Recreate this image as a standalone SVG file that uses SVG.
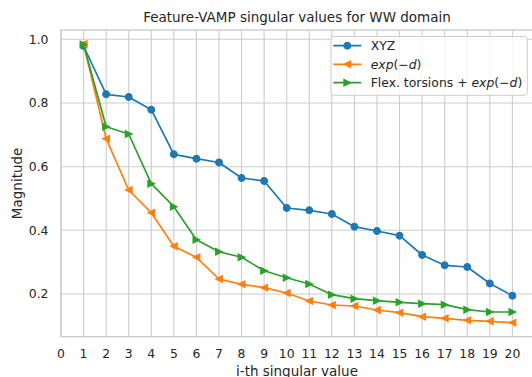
<svg xmlns="http://www.w3.org/2000/svg" width="532" height="377" viewBox="0 0 532 377">
<style>
text{font-family:"DejaVu Sans","Liberation Sans",sans-serif;fill:#262626}
.tk{font-size:12.4px}
.xt{text-anchor:middle}
.yt{text-anchor:end}
.grid line{stroke:#cccccc;stroke-width:1.1}
.ln{fill:none;stroke-width:1.7;stroke-linejoin:round;stroke-linecap:round}
.b{stroke:#1f77b4;fill:#1f77b4}
.o{stroke:#ff7f0e;fill:#ff7f0e}
.g{stroke:#2ca02c;fill:#2ca02c}
.mk use{stroke-width:1.1}
.lg{font-size:12.4px}
</style>
<defs>
<circle id="mc" r="3.4"/>
<path id="ml" d="M-3.4,0 L3.4,-3.4 L3.4,3.4 Z"/>
<path id="mr" d="M3.4,0 L-3.4,-3.4 L-3.4,3.4 Z"/>
</defs>
<rect width="532" height="377" fill="#ffffff"/>
<g id="axes">
<g class="grid">
<line x1="61" y1="30" x2="61" y2="336.7"/>
<line x1="83.57" y1="30" x2="83.57" y2="336.7"/>
<line x1="106.14" y1="30" x2="106.14" y2="336.7"/>
<line x1="128.71" y1="30" x2="128.71" y2="336.7"/>
<line x1="151.28" y1="30" x2="151.28" y2="336.7"/>
<line x1="173.85" y1="30" x2="173.85" y2="336.7"/>
<line x1="196.42" y1="30" x2="196.42" y2="336.7"/>
<line x1="218.99" y1="30" x2="218.99" y2="336.7"/>
<line x1="241.56" y1="30" x2="241.56" y2="336.7"/>
<line x1="264.13" y1="30" x2="264.13" y2="336.7"/>
<line x1="286.7" y1="30" x2="286.7" y2="336.7"/>
<line x1="309.27" y1="30" x2="309.27" y2="336.7"/>
<line x1="331.84" y1="30" x2="331.84" y2="336.7"/>
<line x1="354.41" y1="30" x2="354.41" y2="336.7"/>
<line x1="376.98" y1="30" x2="376.98" y2="336.7"/>
<line x1="399.55" y1="30" x2="399.55" y2="336.7"/>
<line x1="422.12" y1="30" x2="422.12" y2="336.7"/>
<line x1="444.69" y1="30" x2="444.69" y2="336.7"/>
<line x1="467.26" y1="30" x2="467.26" y2="336.7"/>
<line x1="489.83" y1="30" x2="489.83" y2="336.7"/>
<line x1="512.4" y1="30" x2="512.4" y2="336.7"/>
<line x1="61" y1="39.3" x2="534" y2="39.3"/>
<line x1="61" y1="103" x2="534" y2="103"/>
<line x1="61" y1="166.7" x2="534" y2="166.7"/>
<line x1="61" y1="230.3" x2="534" y2="230.3"/>
<line x1="61" y1="294" x2="534" y2="294"/>
</g>
<rect x="61" y="30" width="473" height="306.7" fill="none" stroke="#cccccc" stroke-width="1.4"/>
<g class="tk xt">
<text x="61" y="358">0</text>
<text x="83.57" y="358">1</text>
<text x="106.14" y="358">2</text>
<text x="128.71" y="358">3</text>
<text x="151.28" y="358">4</text>
<text x="173.85" y="358">5</text>
<text x="196.42" y="358">6</text>
<text x="218.99" y="358">7</text>
<text x="241.56" y="358">8</text>
<text x="264.13" y="358">9</text>
<text x="286.7" y="358">10</text>
<text x="309.27" y="358">11</text>
<text x="331.84" y="358">12</text>
<text x="354.41" y="358">13</text>
<text x="376.98" y="358">14</text>
<text x="399.55" y="358">15</text>
<text x="422.12" y="358">16</text>
<text x="444.69" y="358">17</text>
<text x="467.26" y="358">18</text>
<text x="489.83" y="358">19</text>
<text x="512.4" y="358">20</text>
</g>
<g class="tk yt">
<text x="48.5" y="43.7">1.0</text>
<text x="48.5" y="107.4">0.8</text>
<text x="48.5" y="171.1">0.6</text>
<text x="48.5" y="234.7">0.4</text>
<text x="48.5" y="298.4">0.2</text>
</g>
<text x="297" y="22" font-size="13.5" text-anchor="middle">Feature-VAMP singular values for WW domain</text>
<text x="297" y="375.8" font-size="13.5" text-anchor="middle">i-th singular value</text>
<text transform="translate(21.5,183.4) rotate(-90)" font-size="13.5" text-anchor="middle">Magnitude</text>
</g>
<g id="series-xyz">
<polyline class="ln b" style="fill:none" points="83.57,46 106.14,94.3 128.71,97 151.28,109.7 173.85,154.3 196.42,158.7 218.99,162.5 241.56,178 264.13,181 286.7,208 309.27,210.3 331.84,214 354.41,226.7 376.98,231 399.55,235.7 422.12,255 444.69,265.3 467.26,267 489.83,283.5 512.4,295.7"/>
<g class="mk b">
<use href="#mc" x="83.57" y="46"/><use href="#mc" x="106.14" y="94.3"/><use href="#mc" x="128.71" y="97"/><use href="#mc" x="151.28" y="109.7"/><use href="#mc" x="173.85" y="154.3"/><use href="#mc" x="196.42" y="158.7"/><use href="#mc" x="218.99" y="162.5"/><use href="#mc" x="241.56" y="178"/><use href="#mc" x="264.13" y="181"/><use href="#mc" x="286.7" y="208"/><use href="#mc" x="309.27" y="210.3"/><use href="#mc" x="331.84" y="214"/><use href="#mc" x="354.41" y="226.7"/><use href="#mc" x="376.98" y="231"/><use href="#mc" x="399.55" y="235.7"/><use href="#mc" x="422.12" y="255"/><use href="#mc" x="444.69" y="265.3"/><use href="#mc" x="467.26" y="267"/><use href="#mc" x="489.83" y="283.5"/><use href="#mc" x="512.4" y="295.7"/>
</g>
</g>
<g id="series-expd">
<polyline class="ln o" style="fill:none" points="83.57,44 106.14,138.7 128.71,190 151.28,212.7 173.85,246.3 196.42,257.3 218.99,279 241.56,284.3 264.13,287.7 286.7,293 309.27,301 331.84,305 354.41,306 376.98,310 399.55,312.7 422.12,316.7 444.69,318.3 467.26,320.3 489.83,321.3 512.4,322.7"/>
<g class="mk o">
<use href="#ml" x="83.57" y="44"/><use href="#ml" x="106.14" y="138.7"/><use href="#ml" x="128.71" y="190"/><use href="#ml" x="151.28" y="212.7"/><use href="#ml" x="173.85" y="246.3"/><use href="#ml" x="196.42" y="257.3"/><use href="#ml" x="218.99" y="279"/><use href="#ml" x="241.56" y="284.3"/><use href="#ml" x="264.13" y="287.7"/><use href="#ml" x="286.7" y="293"/><use href="#ml" x="309.27" y="301"/><use href="#ml" x="331.84" y="305"/><use href="#ml" x="354.41" y="306"/><use href="#ml" x="376.98" y="310"/><use href="#ml" x="399.55" y="312.7"/><use href="#ml" x="422.12" y="316.7"/><use href="#ml" x="444.69" y="318.3"/><use href="#ml" x="467.26" y="320.3"/><use href="#ml" x="489.83" y="321.3"/><use href="#ml" x="512.4" y="322.7"/>
</g>
</g>
<g id="series-flex">
<polyline class="ln g" style="fill:none" points="83.57,44.5 106.14,126.7 128.71,134 151.28,183.7 173.85,206.7 196.42,239.7 218.99,251.7 241.56,257.3 264.13,270.7 286.7,277.7 309.27,284 331.84,294.7 354.41,298.7 376.98,300.7 399.55,302.3 422.12,303.7 444.69,304.7 467.26,309.7 489.83,312 512.4,312"/>
<g class="mk g">
<use href="#mr" x="83.57" y="44.5"/><use href="#mr" x="106.14" y="126.7"/><use href="#mr" x="128.71" y="134"/><use href="#mr" x="151.28" y="183.7"/><use href="#mr" x="173.85" y="206.7"/><use href="#mr" x="196.42" y="239.7"/><use href="#mr" x="218.99" y="251.7"/><use href="#mr" x="241.56" y="257.3"/><use href="#mr" x="264.13" y="270.7"/><use href="#mr" x="286.7" y="277.7"/><use href="#mr" x="309.27" y="284"/><use href="#mr" x="331.84" y="294.7"/><use href="#mr" x="354.41" y="298.7"/><use href="#mr" x="376.98" y="300.7"/><use href="#mr" x="399.55" y="302.3"/><use href="#mr" x="422.12" y="303.7"/><use href="#mr" x="444.69" y="304.7"/><use href="#mr" x="467.26" y="309.7"/><use href="#mr" x="489.83" y="312"/><use href="#mr" x="512.4" y="312"/>
</g>
</g>
<g id="legend">
<rect x="331" y="36.5" width="196.3" height="58.8" rx="2.5" fill="#ffffff" fill-opacity="0.8" stroke="#cccccc" stroke-width="1"/>
<line class="ln b" x1="334" y1="45.7" x2="360.7" y2="45.7"/>
<use class="b" href="#mc" x="347.3" y="45.7" stroke-width="1.1"/>
<text class="lg" x="370.7" y="50.2">XYZ</text>
<line class="ln o" x1="334" y1="64.3" x2="360.7" y2="64.3"/>
<use class="o" href="#ml" x="347.3" y="64.3" stroke-width="1.1"/>
<text class="lg" x="370.7" y="68.8"><tspan font-style="italic">exp</tspan>(−<tspan font-style="italic">d</tspan>)</text>
<line class="ln g" x1="334" y1="82.7" x2="360.7" y2="82.7"/>
<use class="g" href="#mr" x="347.3" y="82.7" stroke-width="1.1"/>
<text class="lg" x="370.7" y="87.2">Flex. torsions + <tspan font-style="italic">exp</tspan>(−<tspan font-style="italic">d</tspan>)</text>
</g>
</svg>
